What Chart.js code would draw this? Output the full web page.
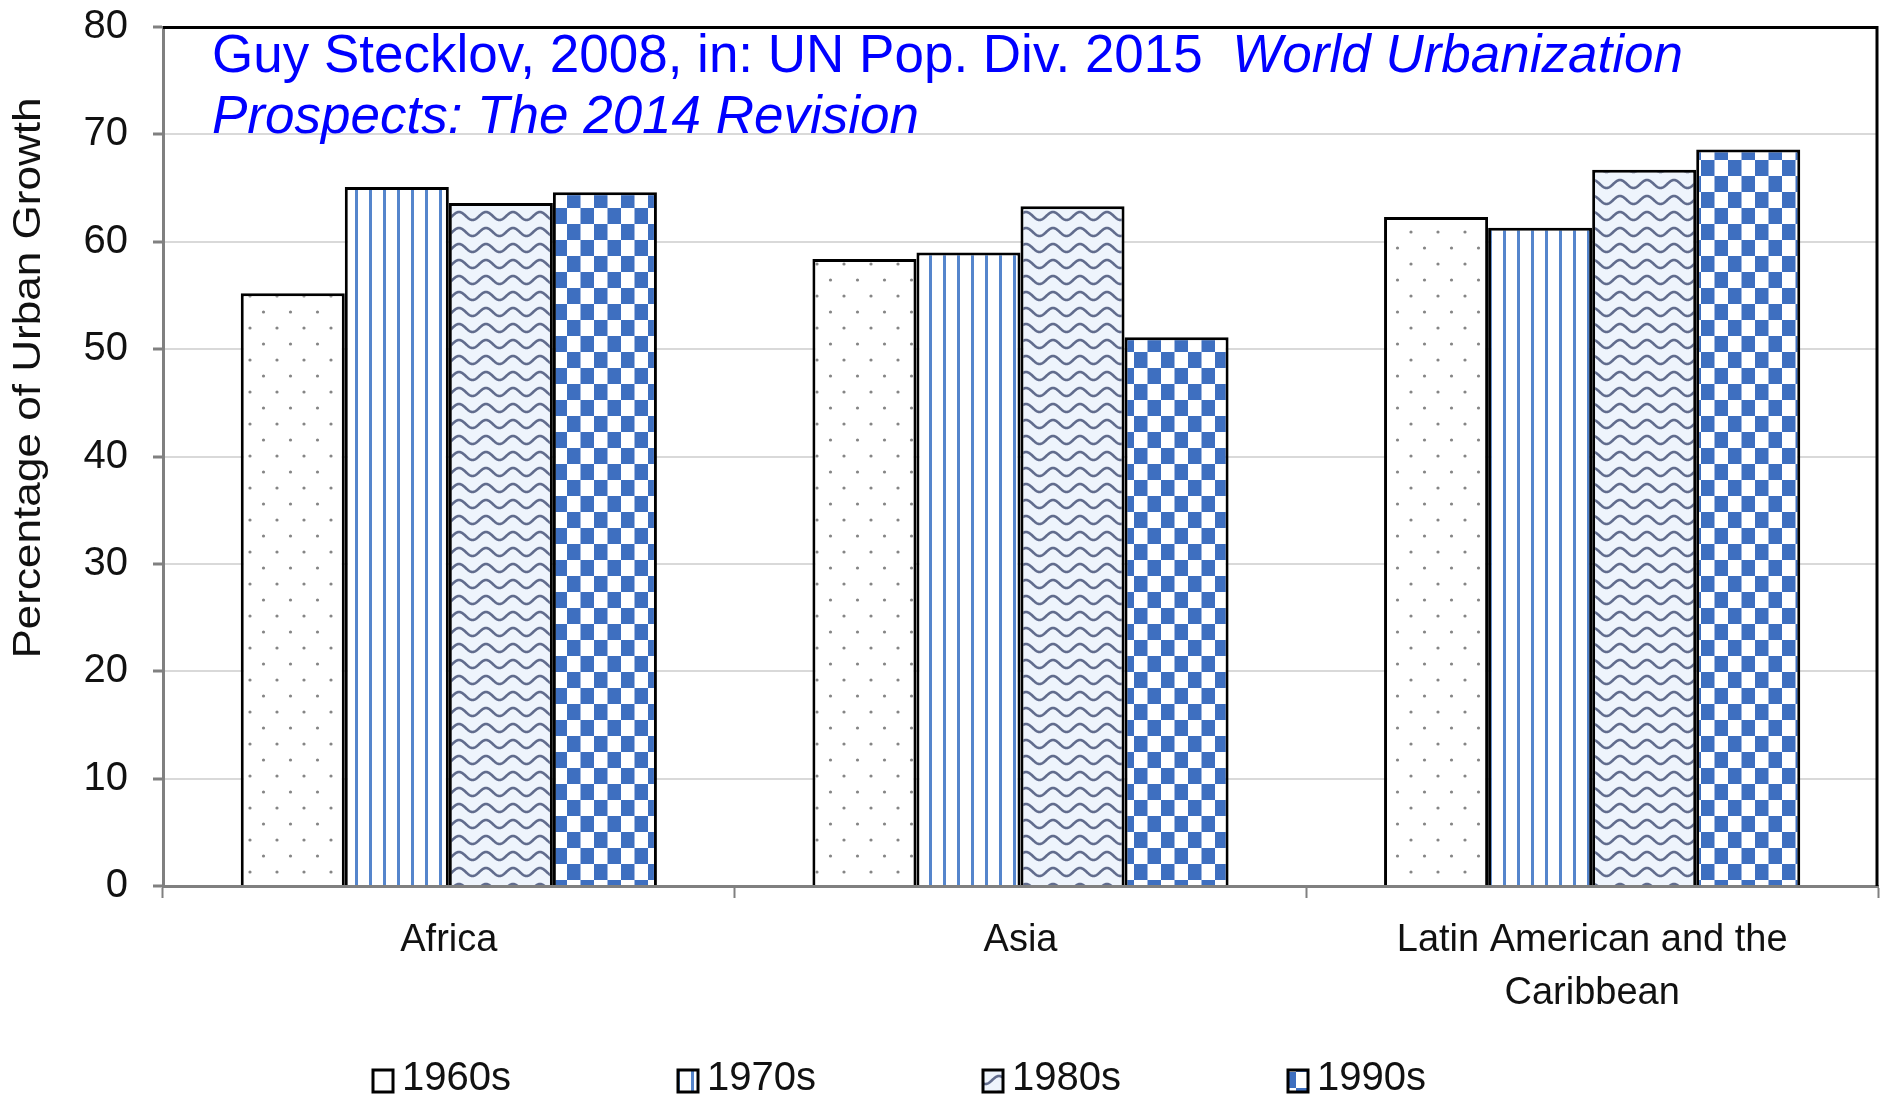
<!DOCTYPE html>
<html>
<head>
<meta charset="utf-8">
<script src="https://cdn.jsdelivr.net/npm/chart.js@4.4.1/dist/chart.umd.min.js"></script>
<style>
  html, body { margin: 0; padding: 0; background: #fff; }
  #wrap { width: 1881px; height: 1098px; position: relative; }
</style>
</head>
<body>
<div id="wrap"><canvas id="c" width="1881" height="1098"></canvas></div>
<script>
// Share of urban growth by region and decade
const regions = ['Africa', 'Asia', ['Latin American and the', 'Caribbean']];
const decades = ['1960s', '1970s', '1980s', '1990s'];
const v1960s = [55.2, 58.4, 62.3];
const v1970s = [65.1, 59.0, 61.3];
const v1980s = [63.6, 63.3, 66.7];
const v1990s = [64.6, 51.1, 68.6];
const yTicks = [0, 10, 20, 30, 40, 50, 60, 70, 80];

const yTitle = 'Percentage of Urban Growth';
const sourceLine1 = 'Guy Stecklov, 2008, in: UN Pop. Div. 2015  ';
const sourceLine1Italic = 'World Urbanization';
const sourceLine2Italic = 'Prospects: The 2014 Revision';

const FONT = '"Liberation Sans", Arial, Helvetica, sans-serif';
const Y_TICK_SIZE = 40;
const X_TICK_SIZE = 38;

// ---- fill patterns for each decade ----
function tile(w, h, paint) {
  const cv = document.createElement('canvas');
  cv.width = w; cv.height = h;
  const g = cv.getContext('2d');
  paint(g, w, h);
  return document.createElement('canvas').getContext('2d').createPattern(cv, 'repeat');
}

const patDots = tile(27, 32, (g, w, h) => {
  g.fillStyle = '#ffffff'; g.fillRect(0, 0, w, h);
  g.fillStyle = '#858585';
  [[7, 8], [20.5, 24]].forEach(([x, y]) => {
    g.beginPath(); g.arc(x, y, 1.6, 0, Math.PI * 2); g.fill();
  });
});

const patLines = tile(14, 8, (g, w, h) => {
  g.fillStyle = '#ffffff'; g.fillRect(0, 0, w, h);
  g.fillStyle = '#5585cc';
  g.fillRect(5, 0, 3, h);
});

const patWave = tile(27, 16, (g, w, h) => {
  g.fillStyle = '#eef4fc'; g.fillRect(0, 0, w, h);
  g.strokeStyle = 'rgba(88,100,135,0.95)';
  g.lineWidth = 2.6;
  for (const off of [-h, 0, h]) {
    g.beginPath();
    for (let x = -2; x <= w + 2; x += 0.5) {
      const y = h / 2 + off - 4 * Math.cos(2 * Math.PI * x / w);
      if (x === -2) g.moveTo(x, y); else g.lineTo(x, y);
    }
    g.stroke();
  }
});

const patChecker = tile(27, 32, (g, w, h) => {
  g.fillStyle = '#ffffff'; g.fillRect(0, 0, w, h);
  g.fillStyle = '#3e6fc0';
  g.fillRect(0, 0, 13.5, 16);
  g.fillRect(13.5, 16, 13.5, 16);
});

const patterns = [patDots, patLines, patWave, patChecker];
const seriesValues = [v1960s, v1970s, v1980s, v1990s];

// ---- extra drawing: plot frame, axis title, source note, legend ----
const decor = {
  id: 'decor',
  afterDraw(chart) {
    const ctx = chart.ctx;
    const a = chart.chartArea;
    ctx.save();

    // black frame on top and right of the plot
    ctx.strokeStyle = '#000';
    ctx.lineWidth = 3;
    ctx.beginPath();
    ctx.moveTo(a.left, a.top + 0.5);
    ctx.lineTo(a.right - 1, a.top + 0.5);
    ctx.lineTo(a.right - 1, a.bottom);
    ctx.stroke();

    // rotated y-axis title
    ctx.save();
    ctx.translate(30, 378);
    ctx.rotate(-Math.PI / 2);
    ctx.scale(1.16, 1);
    ctx.font = '38px ' + FONT;
    ctx.fillStyle = '#111';
    ctx.textAlign = 'center';
    ctx.textBaseline = 'middle';
    ctx.fillText(yTitle, 0, 0);
    ctx.restore();

    // source note in blue
    ctx.fillStyle = '#0000ff';
    ctx.textBaseline = 'alphabetic';
    ctx.textAlign = 'left';
    ctx.font = '53px ' + FONT;
    ctx.fillText(sourceLine1, 212, 72);
    const w1 = ctx.measureText(sourceLine1).width;
    ctx.font = 'italic 53px ' + FONT;
    ctx.fillText(sourceLine1Italic, 212 + w1, 72);
    ctx.fillText(sourceLine2Italic, 212, 133);

    // legend
    const lx = [373, 678, 983, 1288];
    chart.data.datasets.forEach((ds, i) => {
      const bx = lx[i], by = 1070;
      ctx.fillStyle = ds.backgroundColor;
      ctx.fillRect(bx, by, 20, 22);
      ctx.strokeStyle = '#000';
      ctx.lineWidth = 3;
      ctx.strokeRect(bx, by, 20, 22);
      ctx.fillStyle = '#111';
      ctx.font = '40px ' + FONT;
      ctx.textBaseline = 'middle';
      ctx.fillText(ds.label, bx + 29, 1079);
    });

    ctx.restore();
  }
};

new Chart(document.getElementById('c'), {
  type: 'bar',
  data: {
    labels: regions,
    datasets: decades.map((d, i) => ({
      label: d,
      data: seriesValues[i],
      backgroundColor: patterns[i],
      borderColor: '#000',
      borderWidth: 3,
      categoryPercentage: 0.728,
      barPercentage: 1.0
    }))
  },
  options: {
    responsive: false,
    animation: false,
    devicePixelRatio: 1,
    layout: { padding: { top: 27, right: 3, left: 0, bottom: 0 } },
    plugins: {
      legend: { display: false },
      tooltip: { enabled: false },
      title: { display: false }
    },
    scales: {
      x: {
        offset: true,
        grid: {
          display: true,
          offset: true,
          drawOnChartArea: false,
          drawTicks: true,
          tickLength: 12,
          tickColor: '#808080',
          tickWidth: 2
        },
        border: { display: true, color: '#808080', width: 3 },
        ticks: {
          color: '#111',
          font: { family: FONT, size: X_TICK_SIZE, lineHeight: 53 / X_TICK_SIZE },
          padding: 16,
          maxRotation: 0,
          autoSkip: false
        },
        afterFit(scale) {
          scale.height = 212;
          scale.paddingLeft = 0; scale.paddingRight = 0;
        }
      },
      y: {
        min: 0,
        max: 80,
        afterBuildTicks(scale) { scale.ticks = yTicks.map(v => ({ value: v })); },
        grid: {
          color: '#d9d9d9',
          lineWidth: 2,
          tickColor: '#808080',
          tickWidth: 3,
          tickLength: 10
        },
        border: { display: true, color: '#808080', width: 3 },
        ticks: {
          color: '#111',
          font: { family: FONT, size: Y_TICK_SIZE },
          padding: 25
        },
        afterFit(scale) {
          scale.width = 163;
          scale.paddingTop = 0; scale.paddingBottom = 0;
        }
      }
    }
  },
  plugins: [decor]
});
</script>
</body>
</html>
